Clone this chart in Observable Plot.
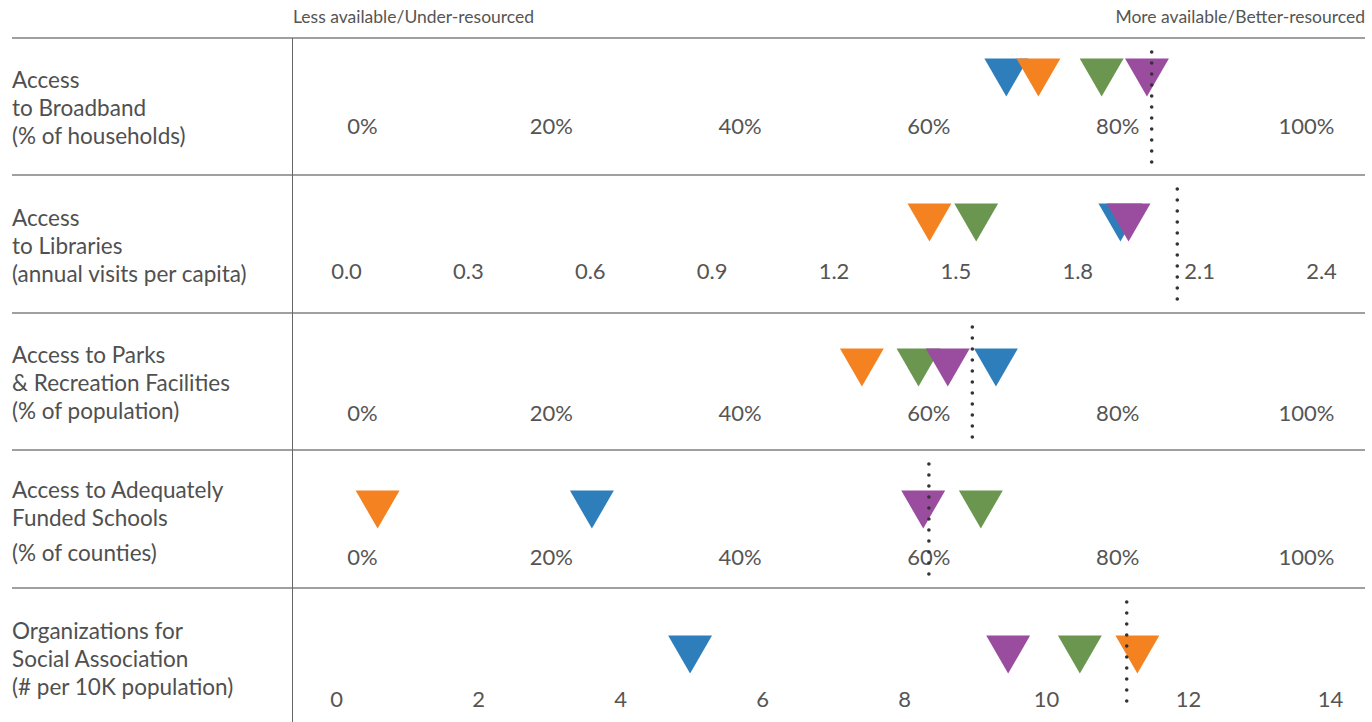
<!DOCTYPE html>
<html><head><meta charset="utf-8">
<script src="https://cdn.jsdelivr.net/npm/d3@7"></script>
<script src="https://cdn.jsdelivr.net/npm/@observablehq/plot@0.6"></script>
<style>
body{margin:0;background:#fff;font-family:Lato,sans-serif;}
#chart{position:relative;width:1372px;height:722px;overflow:hidden;background:#fff;}
.hdr{position:absolute;top:6px;font-size:17.5px;color:#555;white-space:nowrap;}
.hline{position:absolute;left:12px;width:1353px;height:0;border-top:2px solid #a0a0a0;}
.vline{position:absolute;left:292px;top:38px;width:0;height:684px;border-left:1.5px solid #666;}
.row{position:absolute;left:0;width:1372px;}
.lab{position:absolute;left:12px;font-size:22.5px;color:#505050;line-height:28px;white-space:nowrap;}
.plotbox{position:absolute;left:293px;top:0;}
</style></head><body><div id="chart"></div>
<script>
// ---- data ----
const seriesNames = ["Series 1", "Series 2", "Series 3", "Series 4"];
const seriesColors = ["#2f7ebc", "#f58220", "#6b9650", "#9a4c9e"];
const indicatorLabels = [
  ["Access", "to Broadband", "(% of households)"],
  ["Access", "to Libraries", "(annual visits per capita)"],
  ["Access to Parks", "& Recreation Facilities", "(% of population)"],
  ["Access to Adequately", "Funded Schools", "(% of counties)"],
  ["Organizations for", "Social Association", "(# per 10K population)"]
];
const series1Values = [68.2, 1.905, 67.1, 24.3, 4.98];
const series2Values = [71.6, 1.435, 52.9, 1.6, 11.28];
const series3Values = [78.3, 1.55, 58.9, 65.5, 10.47];
const series4Values = [83.1, 1.925, 62.0, 59.4, 9.46];
const referenceValues = [83.6, 2.045, 64.6, 60.0, 11.13];
const tickValues = [
  [0, 20, 40, 60, 80, 100],
  [0, 0.3, 0.6, 0.9, 1.2, 1.5, 1.8, 2.1, 2.4],
  [0, 20, 40, 60, 80, 100],
  [0, 20, 40, 60, 80, 100],
  [0, 2, 4, 6, 8, 10, 12, 14]
];
const tickFormats = [d => d + "%", d => d.toFixed(1), d => d + "%", d => d + "%", d => String(d)];
const domains = [[0, 100], [0, 2.4], [0, 100], [0, 100], [0, 14]];
const headerLeft = "Less available/Under-resourced";
const headerRight = "More available/Better-resourced";

// ---- layout ----
const rowTops = [38, 175, 313, 450, 588, 722];
const xRanges = [[69, 1013], [53, 1028], [69, 1013], [69, 1013], [43, 1037]];
const triTop = [20, 28, 35, 40, 47];
const tickY = [88, 96, 100, 107, 111];
const labTop = [28, 29, 28, 26, 29];
const plotWidth = 1072;

const chart = document.getElementById("chart");
function el(cls, style, text) {
  const d = document.createElement("div");
  d.className = cls;
  Object.assign(d.style, style || {});
  if (text != null) d.textContent = text;
  return d;
}
chart.appendChild(el("hdr", {left: "293px"}, headerLeft));
chart.appendChild(el("hdr", {right: "7px"}, headerRight));

const downTriangle = {
  draw(ctx, size) {
    const y = Math.sqrt(size / (3 * Math.sqrt(3)));
    const s3 = Math.sqrt(3);
    ctx.moveTo(0, 2 * y);
    ctx.lineTo(-s3 * y, -y);
    ctx.lineTo(s3 * y, -y);
    ctx.closePath();
  }
};
const triR = 16.3;
const triHalf = 12.7;

const allSeries = [series1Values, series2Values, series3Values, series4Values];

for (let i = 0; i < 5; i++) {
  const h = rowTops[i + 1] - rowTops[i];
  const row = el("row", {top: rowTops[i] + "px", height: h + "px"});
  const lab = el("lab", {top: labTop[i] + "px"});
  indicatorLabels[i].forEach((t, j) => {
    const line = document.createElement("div");
    line.textContent = t;
    if (i === 3 && j === 2) line.style.marginTop = "7px";
    lab.appendChild(line);
  });
  row.appendChild(lab);

  const rowData = seriesNames.map((s, k) => ({series: s, value: allSeries[k][i]}));
  const fmt = tickFormats[i];
  const p = Plot.plot({
    width: plotWidth,
    height: h,
    margin: 0,
    x: {domain: domains[i], range: xRanges[i], axis: null},
    color: {domain: seriesNames, range: seriesColors},
    style: {fontFamily: "Lato, sans-serif", overflow: "visible", background: "transparent"},
    marks: [
      Plot.text(tickValues[i], {x: d => d, text: d => fmt(d), frameAnchor: "top", lineAnchor: "middle", dy: tickY[i], fontSize: 22, fill: "#555"}),
      Plot.dot(rowData, {x: "value", fill: "series", symbol: downTriangle, r: triR, frameAnchor: "top", dy: triTop[i] + triHalf, stroke: "none"}),
      Plot.ruleX([referenceValues[i]], {x: d => d, stroke: "#333", strokeWidth: 3.6, strokeDasharray: "0,11", strokeLinecap: "round", insetTop: 14, insetBottom: 12})
    ]
  });
  const box = el("plotbox");
  box.appendChild(p);
  row.appendChild(box);
  chart.appendChild(row);
}
for (let i = 0; i < 5; i++) {
  chart.appendChild(el("hline", {top: (rowTops[i] - 1) + "px"}));
}
chart.appendChild(el("vline"));
</script>
</body></html>
